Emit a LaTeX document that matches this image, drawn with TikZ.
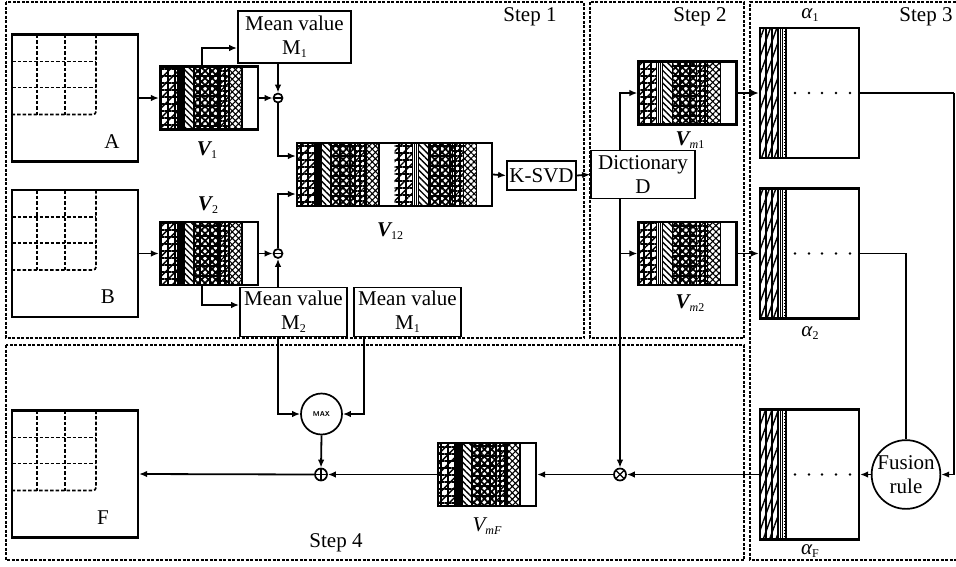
\documentclass[tikz,border=0pt]{standalone}
\usepackage{fontspec}
\setmainfont{Liberation Serif}
\usepackage{tikz}
\usetikzlibrary{calc}
\usetikzlibrary{positioning}
\usetikzlibrary{arrows.meta,patterns.meta}

\newcommand\lowsub[1]{\raisebox{-0.35ex}{\fontsize{12}{12}\selectfont #1}}
\newcommand\vname[1]{{\bfseries\itshape V}\lowsub{#1}}
\newcommand\aname[1]{{\itshape α}\lowsub{#1}}

% hatched columns of a vector block, top left corner at (#1,#2)
\newcommand\vcols[2]{%
  \begin{scope}[shift={(#1,#2)}]
    \fill[pattern={Hatch[angle=0,distance=7pt,line width=1.4pt]}] (0,0) rectangle (18,63);
    \fill[pattern={Lines[angle=45,distance=7pt,line width=1.4pt]}] (0,0) rectangle (18,63);
    \draw[line width=1.2pt] (20,0) -- (20,63) (22,0) -- (22,63);
    \fill[pattern={Lines[angle=-45,distance=4.5pt,line width=1.4pt]}] (24,0) rectangle (34,63);
    \fill[pattern={Hatch[angle=45,distance=5pt,line width=1.8pt]}] (34,0) rectangle (58,63);
    \fill[pattern={Hatch[angle=0,distance=10pt,line width=1.4pt]}] (34,0) rectangle (58,63);
    \fill[pattern={Hatch[angle=0,distance=5pt,line width=1.4pt]}] (58,0) rectangle (69,63);
    \fill[pattern={Lines[angle=45,distance=5pt,line width=1.2pt]}] (58,0) rectangle (69,63);
    \fill[pattern={Hatch[angle=45,distance=4.5pt,line width=1.1pt]}] (69,0) rectangle (82,63);
    \draw[line width=1.8pt] (18,0) -- (18,63) (24,0) -- (24,63) (34,0) -- (34,63)
      (58,0) -- (58,63) (69,0) -- (69,63) (82,0) -- (82,63);
  \end{scope}}

% sparse code strip of an alpha block, top left corner at (#1,#2)
\newcommand\acols[2]{%
  \begin{scope}[shift={(#1,#2)}]
    \fill[pattern={Lines[angle=70,distance=6pt,line width=1.4pt]}] (0,0) rectangle (18,130);
    \draw[line width=1.5pt] (6,0) -- (6,130) (12,0) -- (12,130) (18,0) -- (18,130);
    \draw[line width=0.8pt] (20,0) -- (20,130) (22,0) -- (22,130);
    \draw[line width=1pt,dotted] (24,0) -- (24,130);
    \draw[line width=1.5pt] (26,0) -- (26,130);
    \foreach \d in {35,49,62,76,90} \fill (\d,65) circle (1.4);
  \end{scope}}

% dashed patch grid of an image, top left corner at (#1,#2)
\newcommand\gridcols[2]{%
  \begin{scope}[shift={(#1,#2)}]
    \draw[gridline] (25,0) -- (25,80) (53,0) -- (53,80) (0,27) -- (84,27) (0,53) -- (84,53);
    \draw[gridline,rounded corners=3pt] (84,0) -- (84,80) -- (0,80);
  \end{scope}}

% block nodes: name, x, y of the centre
\newcommand\vnode[3]{\vcols{#2-49}{#3-31.5}\node[vblock] (#1) at (#2,#3) {};}
\newcommand\anode[3]{\acols{#2-49.5}{#3-65}\node[alphabox] (#1) at (#2,#3) {};}
\newcommand\imgnode[3]{\node[imgbox] (#1) at (#2,#3) {};\gridcols{#2-63}{#3-63.5}}

\tikzset{
    flowarrow/.style={
        line width=1.8pt,
        -{Latex[length=8pt,width=6.5pt]}
    },
    flowline/.style={line width=1.8pt},
    stepframe/.style={line width=2.2pt, dash pattern=on 3pt off 1.5pt},
    gridline/.style={line width=1.7pt, dash pattern=on 3.5pt off 2pt},
    imgbox/.style={draw, line width=2.2pt, minimum width=126pt, minimum height=127pt, inner sep=0pt},
    vblock/.style={draw, line width=2.2pt, minimum width=98pt, minimum height=63pt, inner sep=0pt},
    vpair/.style={vblock, minimum width=195pt},
    alphabox/.style={draw, line width=2.2pt, minimum width=99pt, minimum height=130pt, inner sep=0pt},
    textbox/.style={draw, line width=1.8pt, align=center, inner sep=1pt},
    opcirc/.style={draw, circle, line width=1.7pt, inner sep=0pt, fill=white},
    minusop/.style={opcirc, minimum size=9pt,
        path picture={\draw[line width=1.3pt] (path picture bounding box.west) -- (path picture bounding box.east);}},
    plusop/.style={opcirc, minimum size=12pt,
        path picture={\draw[line width=1.3pt] (path picture bounding box.west) -- (path picture bounding box.east)
          (path picture bounding box.north) -- (path picture bounding box.south);}},
    timesop/.style={opcirc, minimum size=12pt,
        path picture={\draw[line width=1.3pt] (path picture bounding box.north west) -- (path picture bounding box.south east)
          (path picture bounding box.north east) -- (path picture bounding box.south west);}}
}

\begin{document}
\begin{tikzpicture}[x=1pt,y=-1pt,font=\fontsize{21}{24}\selectfont]
\useasboundingbox (0,0) rectangle (956,566);

% ===================== frames of the four steps =====================
\draw[stepframe] (6,2) rectangle (584,338);
\draw[stepframe] (590,2) rectangle (744,338);
\draw[stepframe] (960,2) -- (750,2) -- (750,560) -- (960,560);
\draw[stepframe] (6,345) rectangle (744,560);
\node (step1) at (530,17) {Step 1};
\node (step2) at (700,17) {Step 2};
\node (step3) at (926,17) {Step 3};
\node (step4) at (336,543) {Step 4};

% ===================== Step 1 =====================
\imgnode{imgA}{75}{98}
\node (labA) at (112,142) {A};
\imgnode{imgB}{75}{253.5}
\node (labB) at (108,297) {B};

\vnode{V1}{209}{98}
\node (labV1) at (207,150) {\vname{1}};
\vnode{V2}{209}{253.5}
\node (labV2) at (208,205) {\vname{2}};

\node[textbox,minimum width=113pt,minimum height=52pt] (M1) at (294.5,37) {Mean value\\M\lowsub{1}};
\node[textbox,minimum width=107pt,minimum height=49pt] (M2) at (293.5,312) {Mean value\\M\lowsub{2}};
\node[textbox,minimum width=107pt,minimum height=49pt] (M1b) at (407.5,312) {Mean value\\M\lowsub{1}};

\node[minusop] (sub1) at (278,98) {};
\node[minusop] (sub2) at (278,253.5) {};

% two blocks side by side
\vcols{297}{143}
\vcols{394.5}{143}
\node[vpair] (V12) at (394.5,174.5) {};
\node (labV12) at (390,231) {\vname{12}};

\node[textbox,minimum width=69pt,minimum height=29pt] (ksvd) at (541.5,175.5) {K-SVD};

\draw[flowarrow] (imgA.east) -- (V1.west);
\draw[flowarrow] ($(V1.north)+(-7,0)$) |- ($(M1.west)+(0,11)$);
\draw[flowarrow] (V1.east) -- (sub1.west);
\draw[flowarrow] (M1.south -| sub1) -- (sub1.north);
\draw[flowarrow] (sub1.south) |- ($(V12.west)+(0,-18.5)$);
\draw[flowarrow] (imgB.east) -- (V2.west);
\draw[flowarrow] (V2.east) -- (sub2.west);
\draw[flowarrow] ($(V2.south)+(-7,0)$) |- ($(M2.west)+(0,-7)$);
\draw[flowarrow] (M2.north -| sub2) -- (sub2.south);
\draw[flowarrow] (sub2.north) |- ($(V12.west)+(0,19.5)$);
\draw[flowarrow] (V12.east) -- (ksvd.west);

% ===================== Step 2 =====================
\node[textbox,minimum width=104pt,minimum height=48pt] (dict) at (643,174.5) {Dictionary\\D};
\vnode{Vm1}{687.5}{93}
\node (labVm1) at (690,140) {\vname{\itshape m\upshape 1}};
\vnode{Vm2}{687.5}{253.5}
\node (labVm2) at (690,303) {\vname{\itshape m\upshape 2}};
\node[timesop] (mul) at (620,474.5) {};

\draw[flowarrow] (ksvd.east) -- (dict.west);
\draw[flowarrow] (dict.north -| mul) |- (Vm1.west);
\draw[flowarrow] (dict.south -| mul) -- (mul.north);
\draw[flowarrow] (mul |- Vm2.west) -- (Vm2.west);

% ===================== Step 3 =====================
\anode{a1}{809.5}{93}
\node (labA1) at (810,15) {\aname{1}};
\anode{a2}{809.5}{253.5}
\node (labA2) at (810,333) {\aname{2}};
\anode{aF}{809.5}{474.5}
\node (labAF) at (810,551) {\aname{F}};
\node[opcirc,minimum size=60pt,align=center] (fuse) at (906,474.5) {Fusion\\rule};

\draw[flowarrow] (Vm1.east) -- (a1.west);
\draw[flowarrow] (Vm2.east) -- (a2.west);
\draw[flowline] (a1.east) -- ++(94,0) coordinate (a1turn);
\draw[flowarrow] (a1turn) |- (fuse.east);
\draw[flowline] (a2.east) -| (fuse.north);
\draw[flowarrow] (fuse.west) -- (aF.east);

% ===================== Step 4 =====================
\imgnode{imgF}{75}{474}
\node (labF) at (103,518) {F};
\vnode{VmF}{487}{474.5}
\node (labVmF) at (487,526) {{\itshape V}\lowsub{\itshape mF}};
\node[opcirc,minimum size=41pt,font=\fontsize{7}{8}\selectfont\sffamily\bfseries] (maxop) at (321.5,414) {MAX};
\node[plusop] (add) at (321,474.5) {};

\draw[flowarrow] (aF.west) -- (mul.east);
\draw[flowarrow] (mul.west) -- (VmF.east);
\draw[flowarrow] (VmF.west) -- (add.east);
\draw[flowarrow] (add.west) -- (imgF.east);
\draw[flowarrow] (M2.south -| sub2) |- (maxop.west);
\draw[flowarrow] ($(M1b.south)+(-43.5,0)$) |- (maxop.east);
\draw[flowarrow] (maxop.south) -- (add.north);
\end{tikzpicture}
\end{document}
